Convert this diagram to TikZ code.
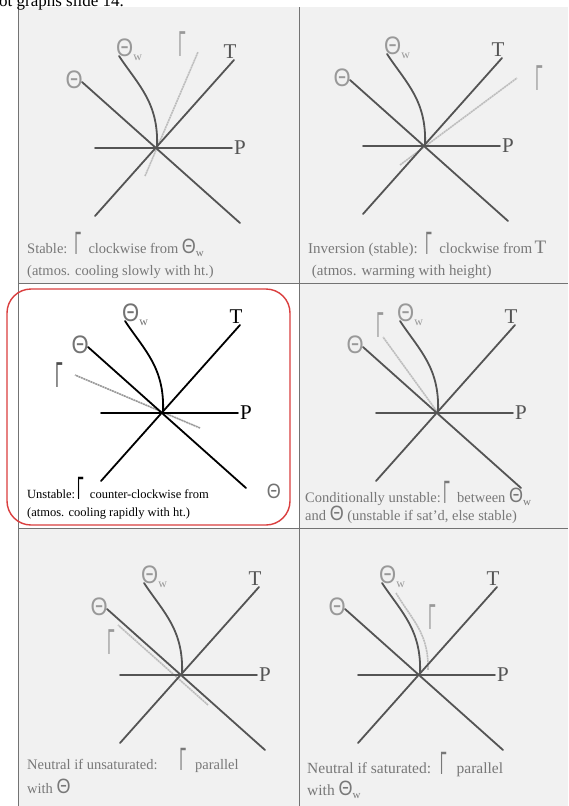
\documentclass[tikz,border=0pt]{standalone}
\usepackage{fontspec}
\setmainfont{Liberation Serif}
\newfontfamily\greekfont{Liberation Sans}
\usepackage{tikz}
\usetikzlibrary{positioning, calc}

\definecolor{panelgray}{gray}{0.945}
\definecolor{framegray}{gray}{0.45}
\definecolor{axisgray}{gray}{0.33}
\definecolor{textgray}{gray}{0.47}
\definecolor{thetagray}{gray}{0.6}
\definecolor{thetadark}{gray}{0.45}
\definecolor{lapsegray}{gray}{0.74}
\definecolor{lapsedark}{gray}{0.6}
\definecolor{ringred}{RGB}{218,62,62}

\newcommand{\gam}{\raisebox{-1pt}{\scalebox{0.7}[1.9]{\fontsize{17}{17}\selectfont\greekfont Γ}}}
\newcommand{\gamlbl}{\scalebox{0.7}[1.9]{\fontsize{19}{19}\selectfont\greekfont Γ}}
\newcommand{\thet}{\scalebox{1}[1.15]{\fontsize{18}{18}\selectfont\greekfont Θ}}
\newcommand{\thetw}{\thet\raisebox{-3pt}{\fontsize{11}{11}\selectfont w}}

\begin{document}
\begin{tikzpicture}[x=1pt, y=-1pt,
    axis/.style={line width=1.8pt, line cap=round},
    lapse/.style={line width=1.6pt, lapsegray, dash pattern=on 2pt off 0.6pt},
    lbl/.style={font=\fontsize{21}{21}\selectfont, inner sep=0pt},
    glbl/.style={font=\fontsize{22}{22}\selectfont\greekfont, inner sep=0pt},
    gamma/.style={inner sep=0pt, lapsedark},
    caption/.style={anchor=north west, align=left, inner sep=0pt, font=\fontsize{14.5}{22}\selectfont}
]
\useasboundingbox (0,0) rectangle (568,806);

% Panels
\fill[panelgray] (18,7) rectangle (568,806);
\fill[white] (18,283) rectangle (299,528);
\draw[framegray, line width=0.8pt] (18,7) -- (18,806) (299,7) -- (299,806)
    (18,283) -- (568,283) (18,528) -- (568,528);
\node[anchor=base west, inner sep=0pt, font=\fontsize{17}{17}\selectfont] (slide) at (-1,6) {ot graphs slide 14.};

% Origins
\foreach \i/\ox/\oy in {1/157/148, 2/425/146, 3/163/413, 4/438/413, 5/182/675, 6/420/675}
    \coordinate (o\i) at (\ox,\oy);

% Lapse-rate lines (Gamma)
\coordinate (ga1) at ($(o1)+(-12,28)$);  \coordinate (gb1) at ($(o1)+(41,-96)$);
\coordinate (ga2) at ($(o2)+(-25,19)$);  \coordinate (gb2) at ($(o2)+(92,-68)$);
\coordinate (ga3) at ($(o3)+(37,15)$);   \coordinate (gb3) at ($(o3)+(-88,-38)$);
\coordinate (ga4) at (o4);               \coordinate (gb4) at ($(o4)+(-55,-76)$);
\coordinate (ga5) at ($(o5)+(26,30)$);   \coordinate (gb5) at ($(o5)+(-64,-50)$);
\coordinate (ga6) at ($(o6)+(8,-5)$);    \coordinate (gb6) at ($(o6)+(-24,-82)$);
\draw[lapse] (ga1) -- (gb1);
\draw[lapse] (ga2) -- (gb2);
\draw[lapse, lapsedark] (ga3) -- (gb3);
\draw[lapse] (ga4) -- (gb4);
\draw[lapse] (ga5) -- (gb5);
\draw[lapse] (gb6) .. controls ($(o6)+(-8,-55)$) and ($(o6)+(9,-42)$) .. (ga6);

\node[gamma] (G1) at ($(gb1)+(-16,-8)$) {\gamlbl};
\node[gamma] (G2) at ($(gb2)+(22,0)$) {\gamlbl};
\node[gamma, black!70] (G3) at ($(gb3)+(-16,0)$) {\gamlbl};
\node[gamma] (G4) at ($(gb4)+(-3,-12)$) {\gamlbl};
\node[gamma] (G5) at ($(gb5)+(-7,17)$) {\gamlbl};
\node[gamma] (G6) at ($(o6)+(12,-58)$) {\gamlbl};

% Axes P, T, Theta and Theta_w
\foreach \i/\ink/\gink in {1/axisgray/thetagray, 2/axisgray/thetagray, 3/black/thetadark,
                           4/axisgray/thetagray, 5/axisgray/thetagray, 6/axisgray/thetagray}{
    \coordinate (pl\i) at ($(o\i)+(-62,0)$);
    \coordinate (pr\i) at ($(o\i)+(75,0)$);
    \coordinate (tu\i) at ($(o\i)+(77,-88)$);
    \coordinate (td\i) at ($(o\i)+(-62,68)$);
    \coordinate (hu\i) at ($(o\i)+(-75,-66)$);
    \coordinate (hd\i) at ($(o\i)+(83,75)$);
    \coordinate (w\i) at ($(o\i)+(-38,-92)$);
    \draw[axis, \ink] (pl\i) -- (pr\i);
    \draw[axis, \ink] (td\i) -- (tu\i);
    \draw[axis, \ink] (hu\i) -- (hd\i);
    \draw[axis, \ink] (w\i) .. controls ($(w\i)+(20,30)$) and ($(o\i)+(2,-45)$) .. (o\i);
    \node[lbl, \ink, right=2pt of pr\i] (P\i) {P};
    \node[lbl, \ink, above=1pt of tu\i, xshift=-4pt] (T\i) {T};
    \node[glbl, \gink, left=-1pt of hu\i, yshift=2pt] (H\i) {\scalebox{1}[1.15]{Θ}};
    \node[glbl, \gink, above right=-5pt and -3pt of w\i] (W\i) {\scalebox{1}[1.15]{Θ}\raisebox{-4pt}{\rmfamily\fontsize{12}{12}\selectfont w}};
}

% Captions
\node[caption, textgray] (cap1) at (27,232) {Stable:\ \ \gam\ \ clockwise from \thetw\\(atmos. cooling slowly with ht.)};
\node[caption, textgray, font=\fontsize{15}{22}\selectfont] (cap2) at (308,232) {Inversion (stable):\ \ \gam\ \ clockwise from\,{\fontsize{19}{19}\selectfont T}\\\ (atmos. warming with height)};
\node[caption, black, font=\fontsize{12.5}{20}\selectfont] (cap3) at (27,477) {Unstable:\,\gam\ \ counter-clockwise from\hspace{58pt}{\color{thetadark}\thet}\\[-2pt](atmos. cooling rapidly with ht.)};
\node[caption, textgray, font=\fontsize{14.5}{18}\selectfont] (cap4) at (305,481) {Conditionally unstable:\,\gam\ \ between\ \thetw\\and \thet\ (unstable if sat'd, else stable)};
\node[caption, textgray] (cap5) at (27,748) {Neutral if unsaturated:\hspace{22pt}\gam\hspace{9pt}parallel\\[2pt]with \thet};
\node[caption, textgray, font=\fontsize{15.5}{22}\selectfont] (cap6) at (307,752) {Neutral if saturated:\hspace{9pt}\gam\hspace{10pt}parallel\\[0pt]with \thetw};

% Highlight
\draw[ringred, line width=1.4pt, rounded corners=24pt] (7,289) rectangle (290,525);
\end{tikzpicture}
\end{document}
